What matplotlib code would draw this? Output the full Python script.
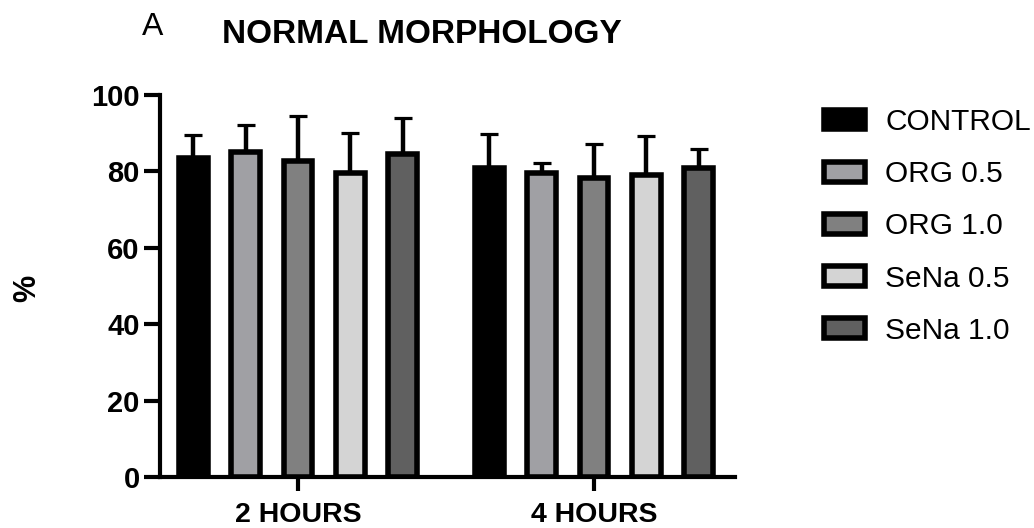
import numpy as np
import matplotlib
matplotlib.use('Agg')
import matplotlib.pyplot as plt

plt.rcParams['font.family'] = ['Liberation Sans', 'DejaVu Sans']

groups = ["2 HOURS", "4 HOURS"]
treatments = ["CONTROL", "ORG 0.5", "ORG 1.0", "SeNa 0.5", "SeNa 1.0"]
colors = ["#000000", "#a0a0a4", "#808080", "#d4d4d4", "#606060"]

# mean and SD per treatment, one list per time point
means_2h = [83.5, 85.0, 82.8, 79.7, 84.5]
means_4h = [80.9, 79.5, 78.2, 79.0, 81.0]
sd_2h = [6.1, 7.2, 11.6, 10.3, 9.4]
sd_4h = [8.8, 2.8, 8.9, 10.3, 4.8]

means = np.array([means_2h, means_4h])
sds = np.array([sd_2h, sd_4h])

fig = plt.figure(figsize=(10.34, 5.28), dpi=100)
ax = fig.add_axes([0.1547, 0.0966, 0.556, 0.7235])

step = 0.1767
width = 0.097
gx = np.arange(len(groups))
for i, (name, c) in enumerate(zip(treatments, colors)):
    xs = gx + (i - 2) * step
    ax.errorbar(xs, means[:, i], yerr=[np.zeros(2), sds[:, i]], fmt="none",
                ecolor="black", elinewidth=3.2, capsize=6.2, capthick=2.3, zorder=2)
    ax.bar(xs, means[:, i], width=width, color=c, edgecolor="black",
           linewidth=4, label=name, zorder=3)

ax.set_xlim(-0.466, 1.476)
ax.set_ylim(0, 100)
ax.set_yticks([0, 20, 40, 60, 80, 100])
ax.set_xticks(gx)
ax.set_xticklabels(groups)
for s in ["top", "right"]:
    ax.spines[s].set_visible(False)
for s in ["left", "bottom"]:
    ax.spines[s].set_linewidth(3)
ax.tick_params(axis="y", length=11.5, width=3, labelsize=21, pad=3)
ax.tick_params(axis="x", length=10, width=3, labelsize=20.5, pad=8)
for lab in ax.get_xticklabels() + ax.get_yticklabels():
    lab.set_fontweight("bold")

fig.text(0.026, 0.4545, "%", rotation=90, fontsize=22, fontweight="bold",
         ha="center", va="center")
fig.text(0.148, 0.949, "A", fontsize=23, ha="center", va="center")
fig.text(0.408, 0.934, "NORMAL MORPHOLOGY", fontsize=24, fontweight="bold",
         ha="center", va="center")

fig.legend(loc="upper left", bbox_to_anchor=(0.785, 0.818), frameon=False,
           fontsize=21.5, handlelength=1.37, handleheight=0.64,
           handletextpad=0.7, labelspacing=0.81, borderaxespad=0)

fig.savefig("out.png", dpi=100)
